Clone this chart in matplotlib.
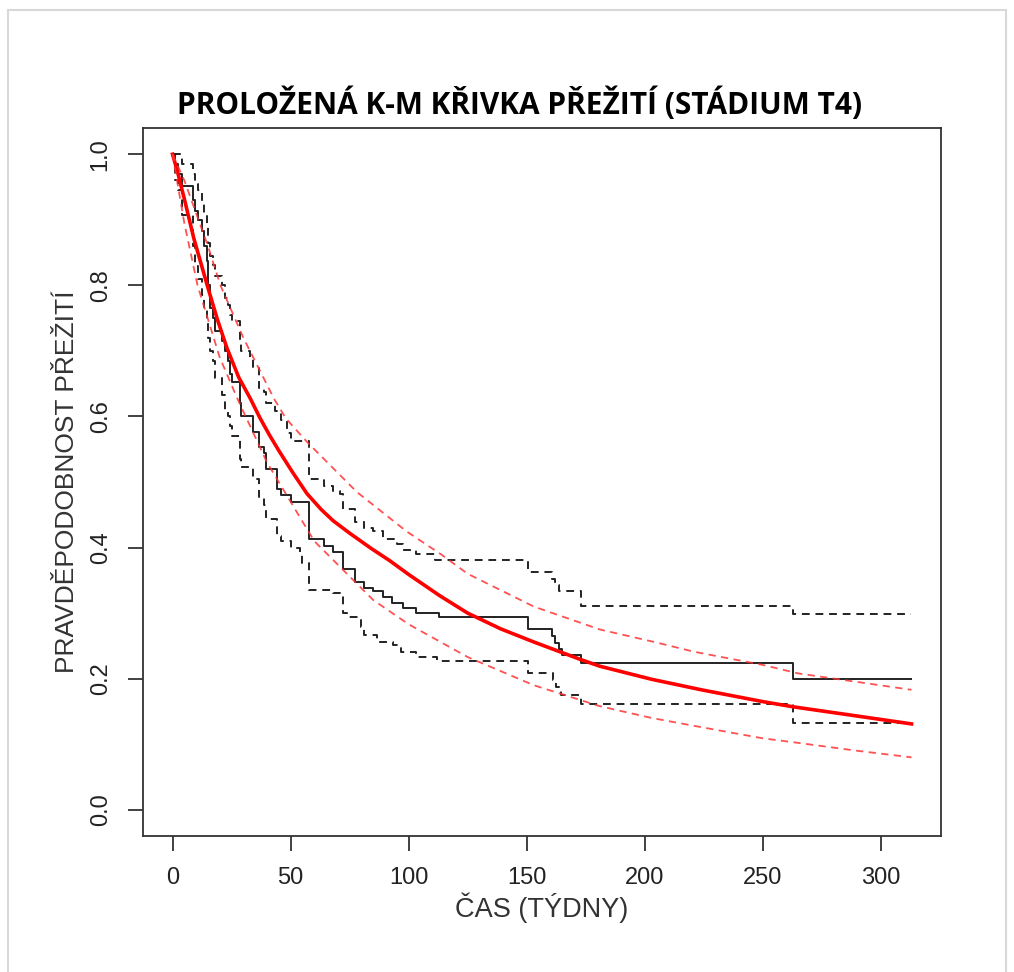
import numpy as np
import matplotlib
matplotlib.use("Agg")
import matplotlib.pyplot as plt
from matplotlib.patches import Rectangle

# Kaplan-Meier odhad (cas kroku, preziti po kroku)
km_t = [0, 1, 2.5, 4, 8.5, 9.5, 11, 12.7, 13.5, 14.8, 15.2, 16, 17, 18.2, 21, 22.2, 23.3,
        24.5, 25.4, 28.4, 29, 34, 36.5, 38.6, 39.5, 44.4, 46, 50, 58, 64, 68, 72, 77.5, 81,
        85, 89, 93, 97.5, 103, 113, 150.5, 160.6, 162, 163.5, 165, 173, 263, 313]
km_s = [1.0, 0.985, 0.97, 0.951, 0.93, 0.914, 0.90, 0.883, 0.86, 0.837, 0.80, 0.765, 0.75,
        0.73, 0.715, 0.70, 0.684, 0.665, 0.653, 0.62, 0.60, 0.577, 0.553, 0.545, 0.52, 0.489,
        0.48, 0.469, 0.413, 0.402, 0.393, 0.367, 0.348, 0.339, 0.333, 0.324, 0.316, 0.308,
        0.30, 0.294, 0.276, 0.265, 0.255, 0.245, 0.236, 0.224, 0.20, 0.20]

ci_hi_t = [0, 4, 8.5, 9.5, 11, 12.7, 13.5, 14.8, 15.2, 16, 17, 18.2, 21, 22.2, 23.3, 24.5,
           25.4, 28.4, 29, 33, 34, 36.5, 38.6, 39.5, 43.6, 46, 48.6, 50, 58, 64, 68, 71, 72,
           77.5, 81, 85, 89, 95, 97.5, 103, 111, 150.5, 160.6, 162, 163.5, 173, 263, 313]
ci_hi_s = [1.0, 0.985, 0.97, 0.955, 0.945, 0.925, 0.91, 0.89, 0.865, 0.845, 0.831, 0.815,
           0.80, 0.78, 0.77, 0.755, 0.745, 0.715, 0.70, 0.689, 0.675, 0.643, 0.638, 0.62,
           0.609, 0.595, 0.575, 0.563, 0.505, 0.494, 0.487, 0.482, 0.459, 0.439, 0.43, 0.425,
           0.413, 0.405, 0.397, 0.39, 0.381, 0.362, 0.352, 0.343, 0.333, 0.311, 0.299, 0.299]

ci_lo_t = [0, 1, 2.5, 4, 8.5, 9.5, 11, 12.7, 13.5, 14.8, 15.2, 16, 17, 18.2, 21, 22.2, 23.3,
           24.5, 25.4, 28.4, 29, 34, 36.5, 38.6, 39.5, 44.4, 46, 50, 54, 55, 58, 68, 72, 74,
           79.7, 81, 86.7, 93.6, 96.6, 103, 112, 150.5, 161, 162.5, 164.4, 173, 263, 313]
ci_lo_s = [1.0, 0.96, 0.945, 0.908, 0.86, 0.83, 0.81, 0.785, 0.765, 0.745, 0.72, 0.70, 0.685,
           0.658, 0.632, 0.61, 0.60, 0.585, 0.57, 0.535, 0.523, 0.505, 0.477, 0.465, 0.443,
           0.417, 0.41, 0.40, 0.393, 0.377, 0.336, 0.331, 0.30, 0.294, 0.279, 0.267, 0.256,
           0.252, 0.241, 0.233, 0.227, 0.209, 0.198, 0.187, 0.175, 0.161, 0.132, 0.132]

# prolozena parametricka krivka a jeji pas
fit_t = [0, 2, 5, 9, 14.7, 19, 23, 28, 33, 37, 41, 45, 51, 57, 63, 68, 75, 84, 92, 100, 113,
         125, 139, 153, 173, 181, 203, 224, 250, 263, 290, 313]
fit_s = [1.0, 0.975, 0.932, 0.872, 0.80, 0.748, 0.705, 0.66, 0.627, 0.598, 0.572, 0.548,
         0.514, 0.482, 0.458, 0.441, 0.422, 0.399, 0.38, 0.359, 0.327, 0.300, 0.276, 0.256,
         0.229, 0.219, 0.199, 0.183, 0.165, 0.157, 0.143, 0.131]
fit_hi_t = [0, 5, 10, 15, 20.3, 30, 43, 48, 57, 78, 99, 114, 125, 153, 181, 204, 221, 250,
            265, 290, 313]
fit_hi_s = [1.0, 0.96, 0.91, 0.86, 0.80, 0.72, 0.627, 0.597, 0.561, 0.485, 0.425, 0.389,
            0.36, 0.31, 0.275, 0.256, 0.241, 0.221, 0.208, 0.195, 0.183]
fit_lo_t = [0, 5, 10.6, 20, 27.5, 40, 60, 85, 100, 114, 125, 153, 181, 203, 224, 250, 263,
            290, 313]
fit_lo_s = [1.0, 0.895, 0.80, 0.69, 0.627, 0.53, 0.41, 0.32, 0.283, 0.255, 0.233, 0.19,
            0.158, 0.14, 0.126, 0.109, 0.103, 0.09, 0.08]

x_ticks = [0, 50, 100, 150, 200, 250, 300]
y_ticks = [0.0, 0.2, 0.4, 0.6, 0.8, 1.0]

plt.rcParams['font.family'] = ['Liberation Sans', 'DejaVu Sans']

fig = plt.figure(figsize=(10.14, 9.72), dpi=100)
fig.patches.append(Rectangle((8 / 1014, -0.01), 998 / 1014, 1 - 10 / 972 + 0.01,
                             transform=fig.transFigure, fill=False,
                             edgecolor='#d8d8d8', lw=1.5))
ax = fig.add_axes([143 / 1014, 1 - 836 / 972, 798 / 1014, 708 / 972])

dash = (0, (4, 3))
ax.step(km_t, km_s, where='post', color='#222222', lw=1.4)
ax.step(ci_hi_t, ci_hi_s, where='post', color='#222222', lw=1.4, linestyle=dash)
ax.step(ci_lo_t, ci_lo_s, where='post', color='#222222', lw=1.4, linestyle=dash)

ax.plot(fit_t, fit_s, color='#ff0000', lw=2.6)
ax.plot(fit_hi_t, fit_hi_s, color='#ff3333', lw=1.3, linestyle=dash, alpha=0.85)
ax.plot(fit_lo_t, fit_lo_s, color='#ff3333', lw=1.3, linestyle=dash, alpha=0.85)

ax.set_xlim(-12.5, 325.5)
ax.set_ylim(-0.04, 1.04)
ax.set_xticks(x_ticks)
ax.set_xticklabels([str(v) for v in x_ticks])
ax.set_yticks(y_ticks)
ax.set_yticklabels([f"{v:.1f}" for v in y_ticks], rotation=90, va='center')

for s in ax.spines.values():
    s.set_color('#333333')
    s.set_linewidth(1.3)
ax.tick_params(direction='out', length=10.5, width=1.3, color='#333333',
               labelsize=17, labelcolor='#222222', pad=12)

ax.set_xlabel('ČAS (TÝDNY)', fontsize=19.5, color='#333333', labelpad=2)
ax.set_ylabel('PRAVDĚPODOBNOST PŘEŽITÍ', fontsize=19, color='#333333', labelpad=8)
ax.set_title('PROLOŽENÁ K-M KŘIVKA PŘEŽITÍ (STÁDIUM T4)', fontsize=21.5,
             fontweight='bold', family=['Open Sans', 'DejaVu Sans'], pad=10,
             x=(520 - 143) / 798)

fig.savefig('out.png', dpi=100)
